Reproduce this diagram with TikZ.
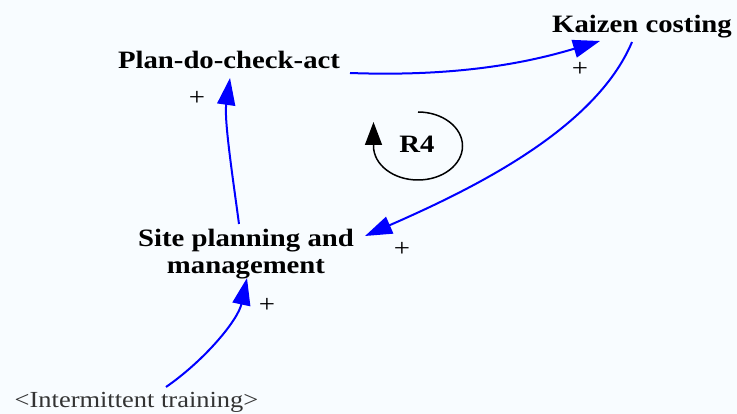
\documentclass[tikz,border=0pt]{standalone}
\usepackage{fontspec}
\setmainfont{Liberation Serif}[FakeStretch=1.15]
\usetikzlibrary{arrows.meta}
\definecolor{bg}{HTML}{F8FCFF}
\definecolor{lk}{HTML}{0000FF}
\definecolor{gr}{HTML}{333333}
\begin{document}
\begin{tikzpicture}[x=1pt,y=-1pt,
  var/.style={font=\fontsize{25}{27}\selectfont\bfseries, inner sep=0pt, align=center},
  pol/.style={font=\fontsize{25}{27}\selectfont, inner sep=0pt},
  link/.style={draw=lk, line width=2pt, -{Triangle[length=27pt,width=18pt]}},
  loopst/.style={draw=black, line width=1.5pt, -{Triangle[length=23pt,width=17pt]}}]
\fill[bg] (0,0) rectangle (737,414);
\useasboundingbox (0,0) rectangle (737,414);
\node[var, anchor=base] (pdca) at (229,69) {Plan-do-check-act};
\node[var, anchor=base] (kaizen) at (642,33) {Kaizen costing};
\node[var] (site) at (246,254) {Site planning and\\management};
\node[pol, anchor=base, text=gr, font=\fontsize{23}{25}\selectfont] (train) at (136.5,407) {<Intermittent training>};
\node[var, anchor=base] (r4) at (417,153) {R4};
\node[pol] (p1) at (197,98) {+};
\node[pol] (p2) at (580,69) {+};
\node[pol] (p3) at (402,249) {+};
\node[pol] (p4) at (267,305) {+};
\draw[link] ([shift={(121,4)}]pdca.base) .. controls +(110,4) and +(-70,21) .. ([shift={(-42,8)}]kaizen.base);
\draw[link] ([shift={(-10,9)}]kaizen.base) .. controls +(-37,88) and +(105,-46) .. ([shift={(119,-18)}]site.center);
\draw[link] ([shift={(-7,-30)}]site.center) .. controls +(-6,-45) and +(-6,42) .. ([shift={(1,9)}]pdca.base);
\draw[link] ([shift={(29.5,-20)}]train.base) .. controls +(39,-27) and +(-9,42) .. ([shift={(1,24)}]site.center);
\draw[loopst] ([shift={(1,-41)}]r4.base) arc[start angle=90,end angle=-180,x radius=44.5pt,y radius=34pt] -- ++(0,-24);
\end{tikzpicture}
\end{document}
